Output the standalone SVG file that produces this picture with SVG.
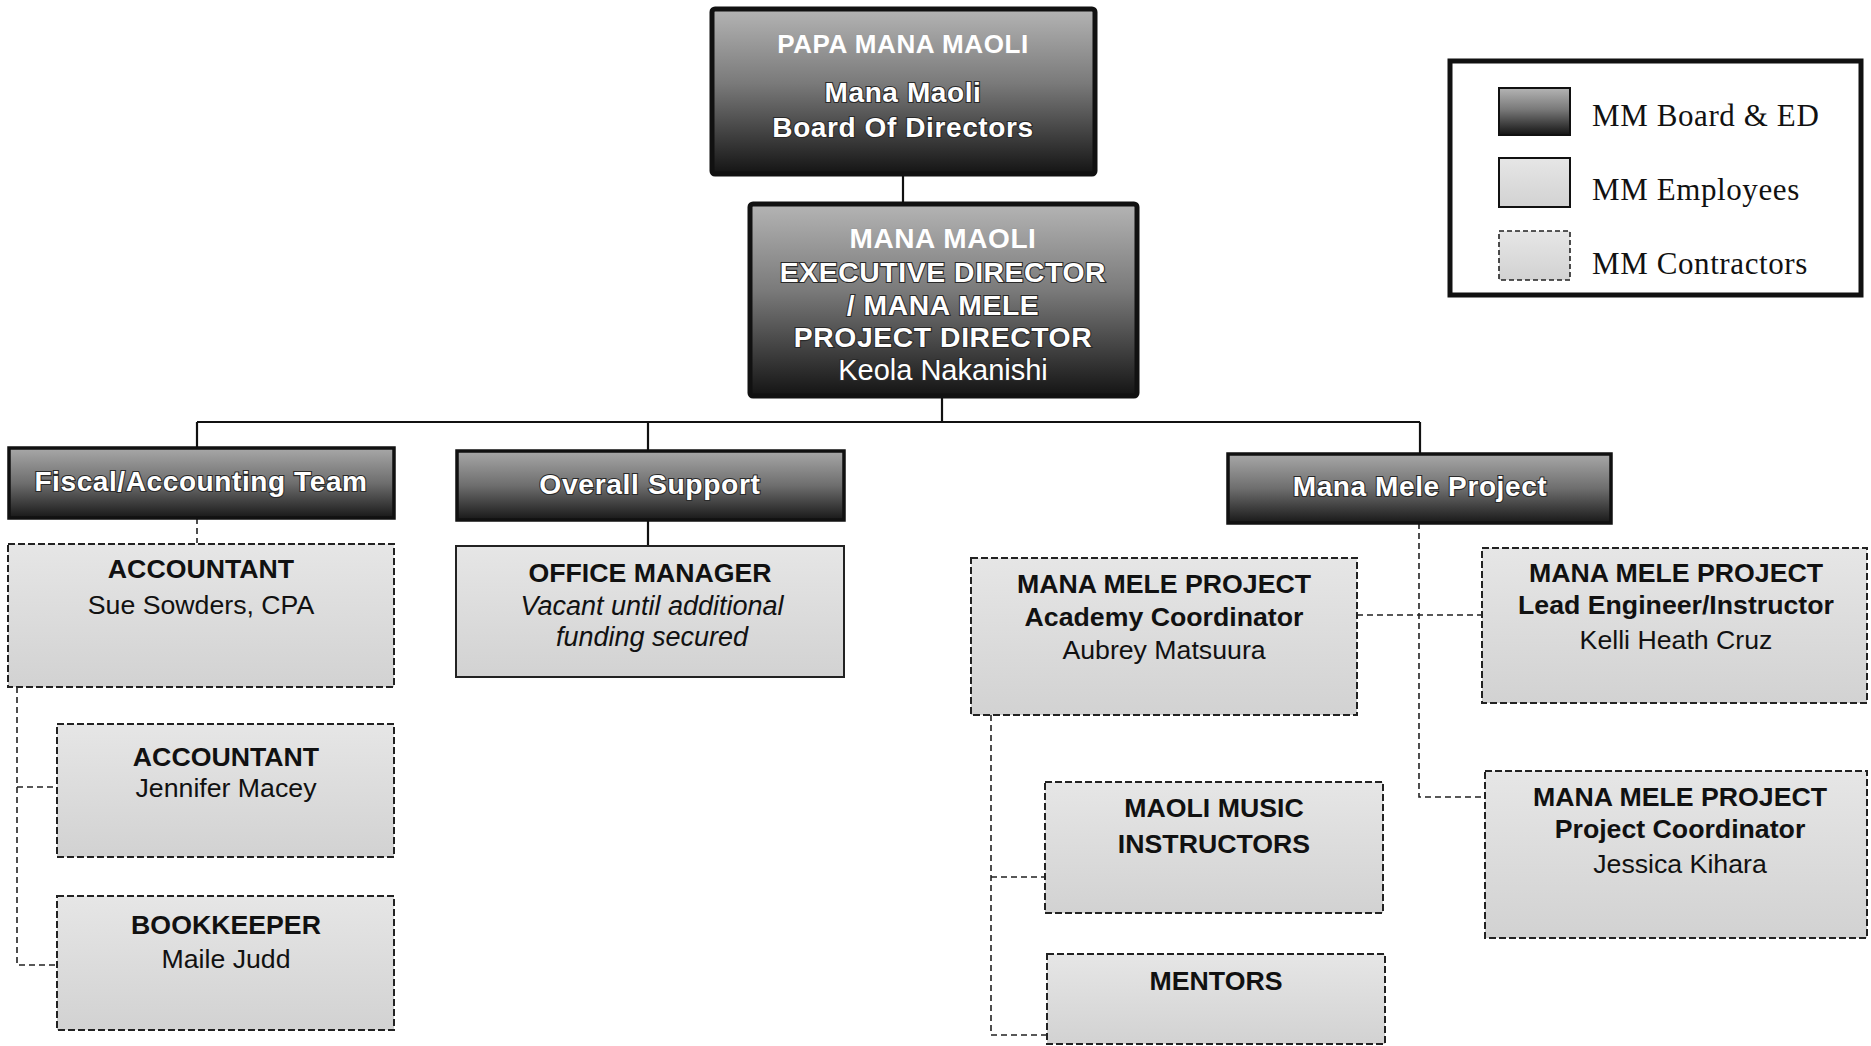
<svg xmlns="http://www.w3.org/2000/svg" width="1871" height="1046" viewBox="0 0 1871 1046">
<defs>
<linearGradient id="gDark" x1="0" y1="0" x2="0" y2="1">
<stop offset="0" stop-color="#b4b4b4"/>
<stop offset="0.45" stop-color="#7a7a7a"/>
<stop offset="1" stop-color="#141414"/>
</linearGradient>
<linearGradient id="gHead" x1="0" y1="0" x2="0" y2="1">
<stop offset="0" stop-color="#a8a8a8"/>
<stop offset="0.5" stop-color="#6e6e6e"/>
<stop offset="1" stop-color="#181818"/>
</linearGradient>
<linearGradient id="gLight" x1="0" y1="0" x2="0" y2="1">
<stop offset="0" stop-color="#e6e6e6"/>
<stop offset="1" stop-color="#d2d2d2"/>
</linearGradient>
</defs>
<style>
.dark{fill:url(#gDark);stroke:#111;stroke-width:5}
.head{fill:url(#gHead);stroke:#111;stroke-width:3.5}
.emp{fill:url(#gLight);stroke:#222;stroke-width:2}
.con{fill:url(#gLight);stroke:#222;stroke-width:2;stroke-dasharray:7 3}
.wt{font-family:"Liberation Sans",Arial,sans-serif;font-weight:bold;fill:#fff;stroke:#2a2a2a;stroke-width:2.2;paint-order:stroke;text-anchor:middle;letter-spacing:0.6px}
.faint{stroke:#9a9a9a;stroke-width:1.2}
.wtn{font-family:"Liberation Sans",Arial,sans-serif;fill:#fff;stroke:#2a2a2a;stroke-width:2.2;paint-order:stroke;text-anchor:middle}
.bt{font-family:"Liberation Sans",Arial,sans-serif;font-weight:bold;fill:#111;font-size:26.7px;text-anchor:middle}
.nt{font-family:"Liberation Sans",Arial,sans-serif;fill:#111;font-size:26.7px;text-anchor:middle}
.it{font-family:"Liberation Sans",Arial,sans-serif;font-style:italic;fill:#111;font-size:27px;text-anchor:middle}
.lg{font-family:"Liberation Serif","Times New Roman",serif;fill:#111;font-size:31px;letter-spacing:0.6px}
.solid{stroke:#111;stroke-width:2.2;fill:none}
.dash{stroke:#222;stroke-width:1.6;fill:none;stroke-dasharray:6 4}
</style>
<rect width="1871" height="1046" fill="#fff"/>

<g id="connectors">
<line class="solid" x1="903" y1="175" x2="903" y2="202"/>
<line class="solid" x1="942" y1="398" x2="942" y2="422"/>
<line class="solid" x1="197" y1="422" x2="1420" y2="422"/>
<line class="solid" x1="197" y1="422" x2="197" y2="447"/>
<line class="solid" x1="648" y1="422" x2="648" y2="450"/>
<line class="solid" x1="1420" y1="422" x2="1420" y2="453"/>
<line class="solid" x1="648" y1="520" x2="648" y2="545"/>
<line class="dash" x1="197" y1="518" x2="197" y2="543"/>
<polyline class="dash" points="17,687 17,965 57,965"/>
<line class="dash" x1="17" y1="787" x2="57" y2="787"/>
<polyline class="dash" points="1419,523 1419,797 1485,797"/>
<line class="dash" x1="1357" y1="615" x2="1482" y2="615"/>
<polyline class="dash" points="991,715 991,1035 1047,1035"/>
<line class="dash" x1="991" y1="877" x2="1045" y2="877"/>
</g>

<g id="node-board">
<rect class="dark" x="712" y="9" width="383" height="165" rx="3"/>
<text class="wt faint" x="903" y="53" font-size="26">PAPA MANA MAOLI</text>
<text class="wt" x="903" y="102" font-size="28">Mana Maoli</text>
<text class="wt" x="903" y="137" font-size="28">Board Of Directors</text>
</g>

<g id="node-ed">
<rect class="dark" x="750" y="204" width="387" height="192" rx="3"/>
<text class="wt faint" x="943" y="248" font-size="28">MANA MAOLI</text>
<text class="wt" x="943" y="282" font-size="28.3">EXECUTIVE DIRECTOR</text>
<text class="wt" x="943" y="315" font-size="28.3">/ MANA MELE</text>
<text class="wt" x="943" y="347" font-size="28.3">PROJECT DIRECTOR</text>
<text class="wtn" x="943" y="380" font-size="29">Keola Nakanishi</text>
</g>

<g id="node-fiscal">
<rect class="head" x="9" y="448" width="385" height="70"/>
<text class="wt" x="201" y="491" font-size="28">Fiscal/Accounting Team</text>
</g>

<g id="node-support">
<rect class="head" x="457" y="451" width="387" height="69"/>
<text class="wt" x="650" y="494" font-size="28.3">Overall Support</text>
</g>

<g id="node-manamele">
<rect class="head" x="1228" y="454" width="383" height="69"/>
<text class="wt" x="1420" y="496" font-size="28">Mana Mele Project</text>
</g>

<g id="node-accountant-sue">
<rect class="con" x="8" y="544" width="386" height="143"/>
<text class="bt" x="201" y="578">ACCOUNTANT</text>
<text class="nt" x="201" y="614">Sue Sowders, CPA</text>
</g>

<g id="node-office-manager">
<rect class="emp" x="456" y="546" width="388" height="131"/>
<text class="bt" x="650" y="582">OFFICE MANAGER</text>
<text class="it" x="652" y="615">Vacant until additional</text>
<text class="it" x="652" y="646">funding secured</text>
</g>

<g id="node-accountant-jennifer">
<rect class="con" x="57" y="724" width="337" height="133"/>
<text class="bt" x="226" y="766">ACCOUNTANT</text>
<text class="nt" x="226" y="797">Jennifer Macey</text>
</g>

<g id="node-bookkeeper">
<rect class="con" x="57" y="896" width="337" height="134"/>
<text class="bt" x="226" y="934">BOOKKEEPER</text>
<text class="nt" x="226" y="968">Maile Judd</text>
</g>

<g id="node-academy">
<rect class="con" x="971" y="558" width="386" height="157"/>
<text class="bt" x="1164" y="593">MANA MELE PROJECT</text>
<text class="bt" x="1164" y="626">Academy Coordinator</text>
<text class="nt" x="1164" y="659">Aubrey Matsuura</text>
</g>

<g id="node-lead-engineer">
<rect class="con" x="1482" y="548" width="385" height="155"/>
<text class="bt" x="1676" y="582">MANA MELE PROJECT</text>
<text class="bt" x="1676" y="614">Lead Engineer/Instructor</text>
<text class="nt" x="1676" y="649">Kelli Heath Cruz</text>
</g>

<g id="node-project-coordinator">
<rect class="con" x="1485" y="771" width="382" height="167"/>
<text class="bt" x="1680" y="806">MANA MELE PROJECT</text>
<text class="bt" x="1680" y="838">Project Coordinator</text>
<text class="nt" x="1680" y="873">Jessica Kihara</text>
</g>

<g id="node-instructors">
<rect class="con" x="1045" y="782" width="338" height="131"/>
<text class="bt" x="1214" y="817">MAOLI MUSIC</text>
<text class="bt" x="1214" y="853">INSTRUCTORS</text>
</g>

<g id="node-mentors">
<rect class="con" x="1047" y="954" width="338" height="90"/>
<text class="bt" x="1216" y="990">MENTORS</text>
</g>

<g id="legend">
<rect x="1450" y="61" width="411" height="234" fill="#fff" stroke="#111" stroke-width="5"/>
<rect x="1499" y="88" width="71" height="47" fill="url(#gDark)" stroke="#111" stroke-width="2"/>
<rect x="1499" y="158" width="71" height="49" fill="url(#gLight)" stroke="#111" stroke-width="2"/>
<rect x="1499" y="231" width="71" height="49" fill="url(#gLight)" stroke="#222" stroke-width="1.6" stroke-dasharray="5 3"/>
<text class="lg" x="1592" y="126">MM Board &amp; ED</text>
<text class="lg" x="1592" y="200">MM Employees</text>
<text class="lg" x="1592" y="274">MM Contractors</text>
</g>
</svg>
